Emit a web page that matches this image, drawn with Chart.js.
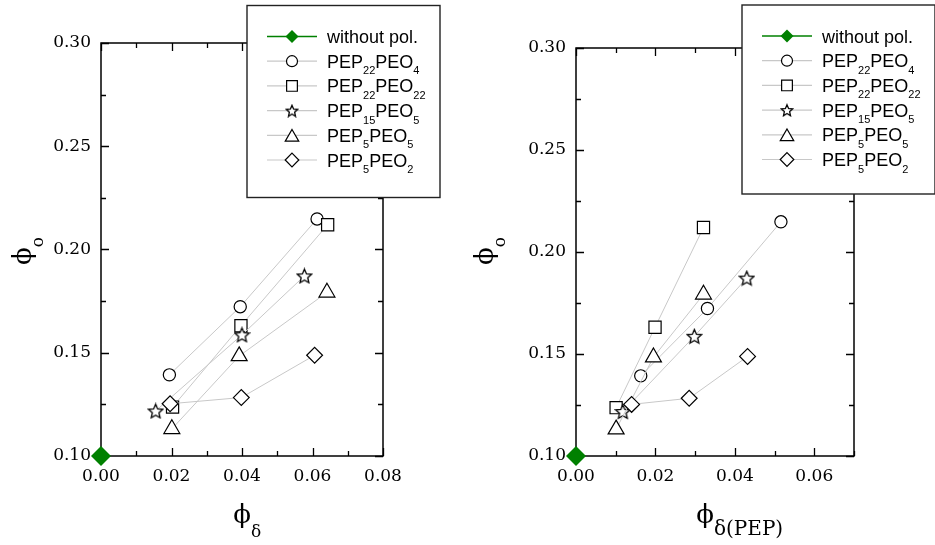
<!DOCTYPE html>
<html>
<head>
<meta charset="utf-8">
<script src="https://cdn.jsdelivr.net/npm/chart.js@4.4.1/dist/chart.umd.min.js"></script>
<style>
  html, body { margin: 0; padding: 0; background: #fff; }
  #wrap { position: relative; width: 935px; height: 545px; }
  #wrap canvas { position: absolute; left: 0; top: 0; }
</style>
</head>
<body>
<div id="wrap">
  <canvas id="left" width="935" height="545"></canvas>
  <canvas id="right" width="935" height="545"></canvas>
</div>
<script>
// Series names; "_x" marks a subscript run
const seriesNames = ['without pol.', 'PEP_22PEO_4', 'PEP_22PEO_22', 'PEP_15PEO_5', 'PEP_5PEO_5', 'PEP_5PEO_2'];

// phi_o, shared by both panels
const phiO_none = [0.100];
const phiO_22_4 = [0.1393, 0.1723, 0.2148];
const phiO_22_22 = [0.1237, 0.1631, 0.2120];
const phiO_15_5 = [0.1218, 0.1587, 0.1872];
const phiO_5_5 = [0.1131, 0.1484, 0.1792];
const phiO_5_2 = [0.1253, 0.1283, 0.1488];

// left panel: phi_delta
const phiD_none = [0];
const phiD_22_4 = [0.0194, 0.0395, 0.0613];
const phiD_22_22 = [0.0203, 0.0397, 0.0643];
const phiD_15_5 = [0.0155, 0.0400, 0.0577];
const phiD_5_5 = [0.0201, 0.0392, 0.0641];
const phiD_5_2 = [0.0196, 0.0398, 0.0606];

// right panel: phi_delta(PEP)
const phiDP_none = [0];
const phiDP_22_4 = [0.0163, 0.0331, 0.0516];
const phiDP_22_22 = [0.0101, 0.0199, 0.0321];
const phiDP_15_5 = [0.0118, 0.0298, 0.0430];
const phiDP_5_5 = [0.0101, 0.0195, 0.0321];
const phiDP_5_2 = [0.0140, 0.0285, 0.0432];

// axis ranges and ticks
const yRange = [0.10, 0.30];
const yStep = 0.025;
const xRangeLeft = [0, 0.08];
const xRangeRight = [0, 0.07];
const xStep = 0.01;

const phiO = [phiO_none, phiO_22_4, phiO_22_22, phiO_15_5, phiO_5_5, phiO_5_2];
const phiD = [phiD_none, phiD_22_4, phiD_22_22, phiD_15_5, phiD_5_5, phiD_5_2];
const phiDP = [phiDP_none, phiDP_22_4, phiDP_22_22, phiDP_15_5, phiDP_5_5, phiDP_5_2];

const GREEN = 'rgb(0,128,0)';
const LINK = '#c8c8c8';
const SERIF = '"DejaVu Serif", serif';
const SANS = '"Liberation Sans", Arial, sans-serif';

/**
 * Five-point outlined star, used as a pointStyle image.
 */
function makeStar(size) {
  const c = document.createElement('canvas');
  c.width = c.height = size;
  const g = c.getContext('2d');
  const cx = size / 2, cy = size / 2 + 0.7, R = size / 2 - 1, r = R * 0.46;
  g.beginPath();
  for (let i = 0; i < 10; i++) {
    const a = -Math.PI / 2 + i * Math.PI / 5;
    const rr = i % 2 ? r : R;
    g.lineTo(cx + rr * Math.cos(a), cy + rr * Math.sin(a));
  }
  g.closePath();
  g.fillStyle = '#fff';
  g.fill();
  g.lineWidth = 1.3;
  g.lineJoin = 'miter';
  g.strokeStyle = '#000';
  g.stroke();
  return c;
}

const starPlot = makeStar(17);
const starLegend = makeStar(14);

// marker style per series: [pointStyle, radius in plot, radius in legend]
const markers = [
  ['rectRot', 10, 6.5],
  ['circle', 6.1, 5.5],
  ['rect', 8.6, 7.6],
  [starPlot, 0, 0],
  ['triangle', 9.2, 7.8],
  ['rectRot', 7.9, 6.8]
];

function buildDatasets(xs) {
  return seriesNames.map((name, i) => {
    const first = i === 0;
    return {
      label: name,
      data: xs[i].map((x, j) => ({ x: x, y: phiO[i][j] })),
      showLine: !first,
      borderColor: first ? GREEN : LINK,
      borderWidth: 1,
      pointStyle: markers[i][0],
      pointRadius: markers[i][1] || 8,
      pointBorderColor: first ? GREEN : '#000',
      pointBackgroundColor: first ? GREEN : '#fff',
      pointBorderWidth: first ? 0 : 1.2,
      clip: false,
      order: seriesNames.length - i
    };
  });
}

/**
 * Draw a run of text where "_xx" parts are subscripts.
 * Returns the width used.
 */
function drawRich(ctx, parts, x, y, mainFont, subFont, subShift) {
  let cx = x;
  parts.forEach(p => {
    ctx.font = p.sub ? subFont : mainFont;
    ctx.fillText(p.text, cx, y + (p.sub ? subShift : 0));
    cx += ctx.measureText(p.text).width;
  });
  return cx - x;
}

function splitSubs(label) {
  const parts = [];
  const re = /_(\d+)|([^_]+)/g;
  let m;
  while ((m = re.exec(label))) {
    if (m[1]) parts.push({ text: m[1], sub: true });
    else parts.push({ text: m[2], sub: false });
  }
  return parts;
}

function drawLegendMarker(ctx, i, x, y) {
  const style = markers[i][0];
  const r = markers[i][2];
  ctx.save();
  ctx.lineWidth = 1.2;
  ctx.strokeStyle = i === 0 ? GREEN : '#000';
  ctx.fillStyle = i === 0 ? GREEN : '#fff';
  if (style instanceof HTMLCanvasElement) {
    ctx.drawImage(starLegend, x - 7, y - 7);
    ctx.restore();
    return;
  }
  ctx.beginPath();
  if (style === 'circle') {
    ctx.arc(x, y, r, 0, Math.PI * 2);
  } else if (style === 'rect') {
    const h = r * Math.SQRT1_2;
    ctx.rect(x - h, y - h, 2 * h, 2 * h);
  } else if (style === 'triangle') {
    for (let k = 0; k < 3; k++) {
      const a = k * 2 * Math.PI / 3;
      ctx.lineTo(x + Math.sin(a) * r, y - Math.cos(a) * r + r * 0.25);
    }
    ctx.closePath();
  } else {
    ctx.moveTo(x, y - r); ctx.lineTo(x + r, y); ctx.lineTo(x, y + r); ctx.lineTo(x - r, y);
    ctx.closePath();
  }
  ctx.fill();
  if (i !== 0) ctx.stroke();
  ctx.restore();
}

// frame with inward ticks on all four sides, drawn under the markers
const framePlugin = {
  id: 'frame',
  beforeDatasetsDraw(chart) {
    const ctx = chart.ctx;
    const { left, right, top, bottom } = chart.chartArea;
    const xs = chart.scales.x, ys = chart.scales.y;
    ctx.save();
    ctx.strokeStyle = '#000';
    ctx.lineWidth = 1.5;
    ctx.strokeRect(left, top, right - left, bottom - top);
    ctx.lineWidth = 1.3;
    ctx.beginPath();
    xs.ticks.forEach(t => {
      const px = Math.round(xs.getPixelForValue(t.value)) + 0.5;
      const len = t.label ? 8 : 5;
      ctx.moveTo(px, bottom); ctx.lineTo(px, bottom - len);
      ctx.moveTo(px, top); ctx.lineTo(px, top + len);
    });
    ys.ticks.forEach(t => {
      const py = Math.round(ys.getPixelForValue(t.value)) + 0.5;
      const len = t.label ? 8 : 5;
      ctx.moveTo(left, py); ctx.lineTo(left + len, py);
      ctx.moveTo(right, py); ctx.lineTo(right - len, py);
    });
    ctx.stroke();
    ctx.restore();
  }
};

// axis titles and the boxed legend
const annotatePlugin = {
  id: 'annotate',
  afterDraw(chart, args, opts) {
    const ctx = chart.ctx;
    ctx.save();
    ctx.fillStyle = '#000';
    ctx.textBaseline = 'alphabetic';

    // x title: phi with subscript
    ctx.textAlign = 'center';
    ctx.font = '26px ' + SERIF;
    ctx.fillText('\u03D5', opts.xTitle.x, opts.xTitle.y);
    ctx.textAlign = 'left';
    ctx.font = opts.xTitle.subSize + 'px ' + SERIF;
    ctx.fillText(opts.xTitle.sub, opts.xTitle.x + 9, opts.xTitle.y + opts.xTitle.subShift);

    // y title: rotated phi_o
    ctx.save();
    ctx.translate(opts.yTitle.x, opts.yTitle.y);
    ctx.rotate(-Math.PI / 2);
    ctx.textAlign = 'left';
    drawRich(ctx, [{ text: '\u03D5', sub: false }, { text: 'o', sub: true }], -13, 0,
      '26px ' + SERIF, '17px ' + SERIF, 12);
    ctx.restore();

    // legend box
    const L = opts.legend;
    ctx.fillStyle = '#fff';
    ctx.fillRect(L.x, L.y, L.w, L.h);
    ctx.strokeStyle = '#222';
    ctx.lineWidth = 1.4;
    ctx.strokeRect(L.x, L.y, L.w, L.h);
    seriesNames.forEach((name, i) => {
      const ry = L.y + 31 + i * 24.7;
      ctx.strokeStyle = i === 0 ? GREEN : LINK;
      ctx.lineWidth = i === 0 ? 1.5 : 1.2;
      ctx.beginPath();
      ctx.moveTo(L.x + 20, ry); ctx.lineTo(L.x + 70, ry);
      ctx.stroke();
      drawLegendMarker(ctx, i, L.x + 45, ry);
      ctx.fillStyle = '#000';
      ctx.textAlign = 'left';
      drawRich(ctx, splitSubs(name), L.x + 80, ry + 6.5, '18px ' + SANS, '11px ' + SANS, 6.5);
    });
    ctx.restore();
  }
};

function tickFont() {
  return { family: SERIF, size: 17 };
}

function makeChart(canvasId, xs, xRange, area, extras) {
  return new Chart(document.getElementById(canvasId), {
    type: 'scatter',
    data: { datasets: buildDatasets(xs) },
    options: {
      responsive: false,
      animation: false,
      devicePixelRatio: 1,
      events: [],
      layout: { padding: { left: area.left - 100, top: area.top, right: 935 - area.right, bottom: 0 } },
      plugins: {
        legend: { display: false },
        tooltip: { enabled: false },
        annotate: extras
      },
      scales: {
        x: {
          type: 'linear',
          min: xRange[0],
          max: xRange[1],
          afterFit(s) { s.height = 545 - area.bottom; },
          grid: { display: false, drawTicks: false },
          border: { display: false },
          ticks: {
            stepSize: xStep,
            padding: 10,
            autoSkip: false,
            maxRotation: 0,
            color: '#000',
            font: tickFont(),
            callback: v => (Math.round(v * 100) % 2 === 0 ? v.toFixed(2) : '')
          }
        },
        y: {
          type: 'linear',
          min: yRange[0],
          max: yRange[1],
          afterFit(s) { s.width = 100; },
          grid: { display: false, drawTicks: false },
          border: { display: false },
          ticks: {
            stepSize: yStep,
            padding: 10,
            autoSkip: false,
            color: '#000',
            font: tickFont(),
            callback: v => (Math.round(v * 1000) % 50 === 0 ? v.toFixed(2) : '')
          }
        }
      }
    },
    plugins: [framePlugin, annotatePlugin]
  });
}

makeChart('left', phiD, xRangeLeft, { left: 101, top: 43, right: 383, bottom: 456 }, {
  xTitle: { x: 242, y: 523, sub: '\u03B4', subSize: 17, subShift: 14 },
  yTitle: { x: 31, y: 252 },
  legend: { x: 247, y: 5.5, w: 193, h: 192 }
});

makeChart('right', phiDP, xRangeRight, { left: 576, top: 48, right: 854, bottom: 456 }, {
  xTitle: { x: 705, y: 523, sub: '\u03B4(PEP)', subSize: 20, subShift: 12 },
  yTitle: { x: 493, y: 252 },
  legend: { x: 742, y: 5, w: 193, h: 189 }
});
</script>
</body>
</html>
